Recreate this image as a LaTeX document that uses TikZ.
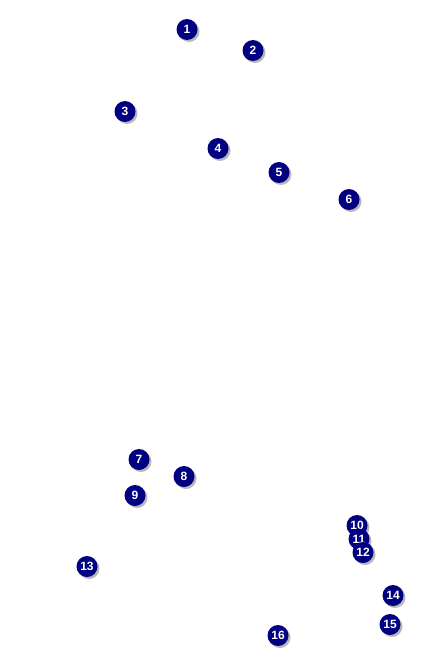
\documentclass[tikz,border=0pt]{standalone}
\usepackage{fontspec}
\setmainfont{Liberation Sans}
\usetikzlibrary{shadows}
\tikzset{
  marker/.style={circle, fill={rgb,255:red,0;green,0;blue,128}, draw=none, minimum size=21pt, inner sep=0pt,
    text=white, font=\fontsize{12}{12}\selectfont\bfseries,
    drop shadow={shadow xshift=2pt, shadow yshift=-2pt, fill=gray!70, opacity=0.8}}
}
\begin{document}
\begin{tikzpicture}[x=1pt,y=-1pt]
\useasboundingbox (0,0) rectangle (433,650);
\node[marker] (n1) at (187,29.5) {1};
\node[marker] (n2) at (253,50.5) {2};
\node[marker] (n3) at (125,111.5) {3};
\node[marker] (n4) at (218,148.5) {4};
\node[marker] (n5) at (279,172.5) {5};
\node[marker] (n6) at (349,199.5) {6};
\node[marker] (n7) at (139,459.5) {7};
\node[marker] (n8) at (184,476.5) {8};
\node[marker] (n9) at (135,495.5) {9};
\node[marker] (n10) at (357,525.5) {10};
\node[marker] (n11) at (359,539) {11};
\node[marker] (n12) at (363,552.5) {12};
\node[marker] (n13) at (87,566.5) {13};
\node[marker] (n14) at (393,595.5) {14};
\node[marker] (n15) at (390,624.5) {15};
\node[marker] (n16) at (278,635.5) {16};
\end{tikzpicture}
\end{document}
